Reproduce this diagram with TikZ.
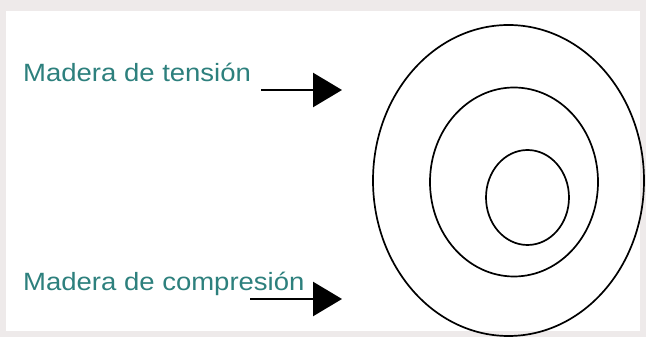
\documentclass[tikz,border=0pt]{standalone}
\usepackage{fontspec}
\setmainfont{Liberation Sans}
\usetikzlibrary{shapes.geometric,arrows.meta}
\definecolor{labteal}{RGB}{45,128,125}
\definecolor{framebg}{RGB}{238,234,234}
\tikzset{
  ring/.style={draw=black, line width=1.7pt, ellipse, inner sep=0pt},
  label/.style={anchor=base west, inner sep=0pt, text=labteal, font=\fontsize{25}{28}\selectfont},
  pointer/.style={draw=black, line width=2.6pt, -{Triangle[length=29pt,width=34pt]}}
}
\begin{document}
\begin{tikzpicture}[x=1pt,y=1pt]
\fill[framebg] (0,0) rectangle (646,337);
\fill[white] (6,6) rectangle (640,326);
\useasboundingbox (0,0) rectangle (646,337);
\node[ring, minimum width=271pt, minimum height=311pt] (outer) at (508.5,156.5) {};
\node[ring, minimum width=168pt, minimum height=189pt] (middle) at (514,155) {};
\node[ring, minimum width=83pt, minimum height=95pt] (inner) at (527.5,139.5) {};
\node[label] (tension) at (23,255) {\scalebox{1.1}[1]{Madera de tensión}};
\node[label] (compresion) at (23,46) {\scalebox{1.1}[1]{Madera de compresión}};
\coordinate (t1) at (261,247);
\coordinate (t2) at (342,247);
\coordinate (c1) at (250,38);
\coordinate (c2) at (342,38);
\draw[pointer] (t1) -- (t2);
\draw[pointer] (c1) -- (c2);
\end{tikzpicture}
\end{document}
